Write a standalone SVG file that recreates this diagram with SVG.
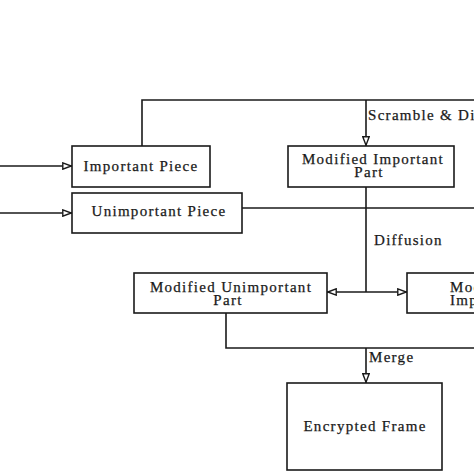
<svg xmlns="http://www.w3.org/2000/svg" width="474" height="474" viewBox="0 0 474 474">
<defs>
<style>
.box{fill:#fff;stroke:#1a1a1a;stroke-width:1.6}
.ln{fill:none;stroke:#1a1a1a;stroke-width:1.6}
text{font-family:"Liberation Serif","Times New Roman",serif;font-size:15px;fill:#1a1a1a;stroke:#1a1a1a;stroke-width:0.25;letter-spacing:1.3px}
.c{text-anchor:middle}
</style>
<marker id="ah" viewBox="0 0 10 8" refX="10" refY="4" markerWidth="10" markerHeight="8" markerUnits="userSpaceOnUse" orient="auto-start-reverse">
<path d="M0.8,0.8 L9.2,4 L0.8,7.2 z" fill="#fff" stroke="#1a1a1a" stroke-width="1.4"/>
</marker>
</defs>
<rect width="474" height="474" fill="#fff"/>
<g id="connectors">
<path class="ln" d="M0,166 H72" marker-end="url(#ah)"/>
<path class="ln" d="M0,213 H72" marker-end="url(#ah)"/>
<path class="ln" d="M142,146 V100 H474"/>
<path class="ln" d="M366,100 V146" marker-end="url(#ah)"/>
<path class="ln" d="M242,208 H474"/>
<path class="ln" d="M366,187 V292"/>
<path class="ln" d="M327,292 H407" marker-start="url(#ah)" marker-end="url(#ah)"/>
<path class="ln" d="M226,313 V348 H474"/>
<path class="ln" d="M366,348 V383" marker-end="url(#ah)"/>
<text x="368" y="120">Scramble &amp; Diffusion</text>
<text x="374" y="245">Diffusion</text>
<text x="369" y="362">Merge</text>
</g>
<g id="important-piece">
<rect class="box" x="72" y="146" width="138" height="41"/>
<text class="c" x="141" y="171">Important Piece</text>
</g>
<g id="unimportant-piece">
<rect class="box" x="72" y="193" width="170" height="40"/>
<text class="c" x="159" y="216">Unimportant Piece</text>
</g>
<g id="modified-important-part">
<rect class="box" x="288" y="146" width="166" height="41"/>
<text class="c" x="373" y="164">Modified Important</text>
<text class="c" x="369" y="177">Part</text>
</g>
<g id="modified-unimportant-part">
<rect class="box" x="134" y="273" width="193" height="40"/>
<text class="c" x="231" y="292">Modified Unimportant</text>
<text class="c" x="228" y="305">Part</text>
</g>
<g id="modified-important-part-2">
<rect class="box" x="407" y="273" width="100" height="40"/>
<text x="450" y="292">Modified</text>
<text x="450" y="305">Important</text>
</g>
<g id="encrypted-frame">
<rect class="box" x="287" y="383" width="155" height="87"/>
<text class="c" x="365" y="431">Encrypted Frame</text>
</g>
</svg>
